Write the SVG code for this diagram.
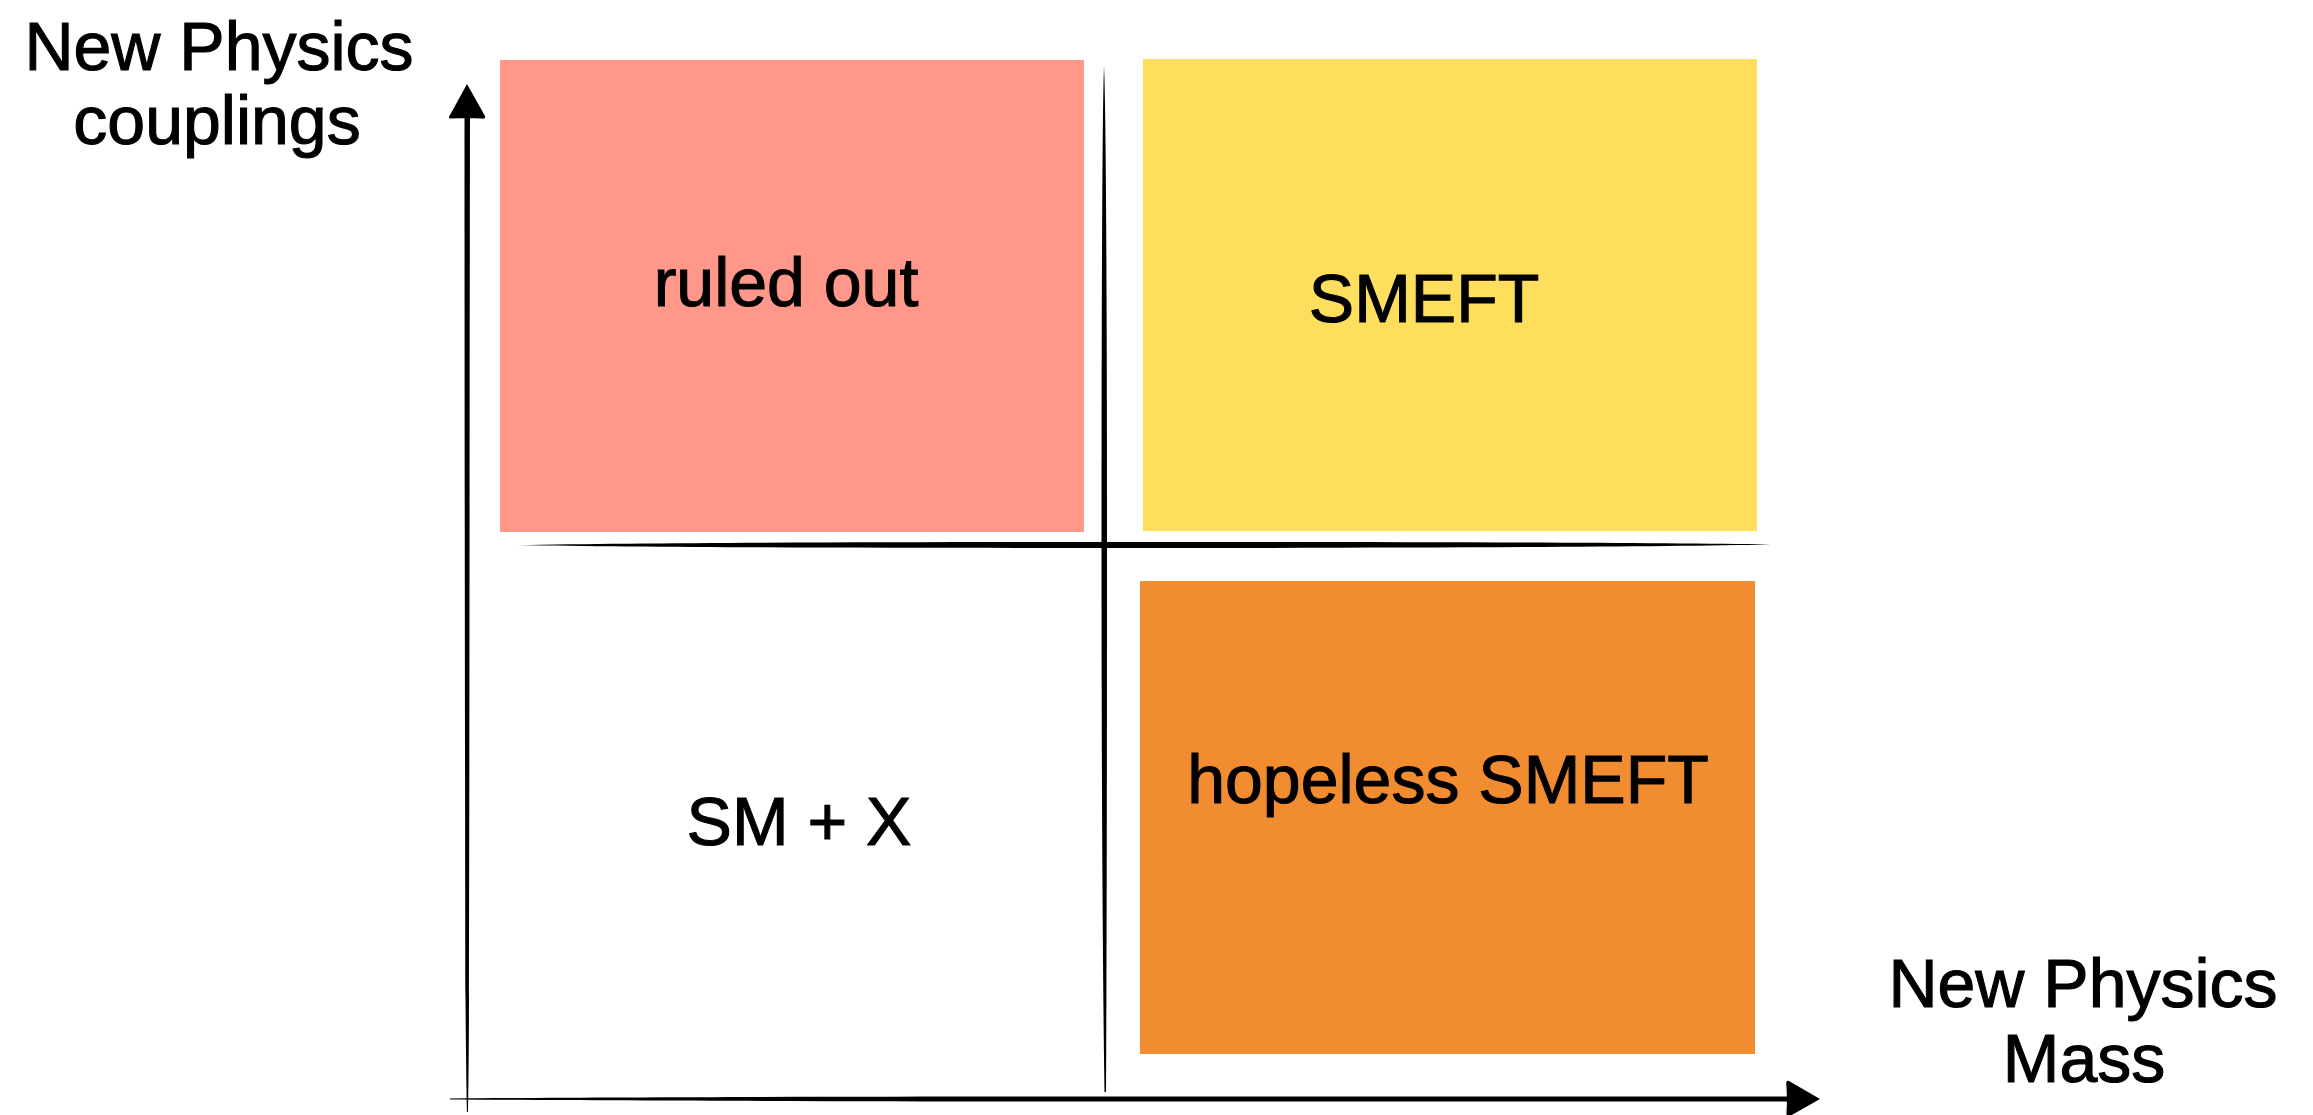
<svg xmlns="http://www.w3.org/2000/svg" width="2313" height="1115" viewBox="0 0 2313 1115">
<style>
.lbl{font-family:"Liberation Sans",Arial,Helvetica,sans-serif;font-size:68px;fill:#000;stroke:#000;stroke-width:1.1px;text-anchor:middle}
.ax{font-size:68px}
.ink{fill:#000;stroke:none}
</style>
<rect x="0" y="0" width="2313" height="1115" fill="#fff"/>
<g id="ruled-out">
<rect x="500" y="60" width="584" height="472" fill="#FF988A"/>
<text class="lbl" x="786" y="306">ruled out</text>
</g>
<g id="smeft">
<rect x="1143" y="59" width="614" height="472" fill="#FEDF5D"/>
<text class="lbl" x="1424" y="322">SMEFT</text>
</g>
<g id="sm-x">
<text class="lbl" x="799" y="845">SM + X</text>
</g>
<g id="hopeless-smeft">
<rect x="1140" y="581" width="615" height="473" fill="#F28C31"/>
<text class="lbl" x="1448" y="803">hopeless SMEFT</text>
</g>
<g id="y-label">
<text class="lbl ax" x="219" y="70">New Physics</text>
<text class="lbl ax" x="217" y="144">couplings</text>
</g>
<g id="x-label">
<text class="lbl ax" x="2083" y="1007">New Physics</text>
<text class="lbl ax" x="2084" y="1082">Mass</text>
</g>
<g id="connectors">
<!-- y axis -->
<path class="ink" d="M464.5,114 L470,114 C469.5,400 469.5,800 469,1000 C468.8,1060 468.5,1090 468,1112 L467,1112 C466.5,1090 466,1060 465.5,1000 C465,800 464.5,400 464.5,114 Z"/>
<path class="ink" d="M467,84 L485,116 C486,118 484,119 481,118.5 C472,118 462,118 452,118.5 C449,119 448,117 450,115 Z"/>
<!-- x axis -->
<path class="ink" d="M450,1098.5 C600,1097 900,1096.5 1100,1096.5 C1400,1096.5 1650,1096.5 1790,1096.5 L1790,1101.5 C1650,1101.5 1400,1101.5 1100,1101.5 C900,1101.5 600,1100.5 450,1099.5 Z"/>
<path class="ink" d="M1820,1099 L1789,1081 C1786,1080 1786,1083 1786.5,1087 C1787,1095 1787,1105 1786.5,1112 C1786,1116 1788,1117 1791,1115.5 Z"/>
<!-- middle horizontal -->
<path class="ink" d="M518,545 C650,542.5 900,542 1104,542 C1400,542 1650,542.5 1771,544.5 C1650,547 1400,548 1104,548 C900,548 650,547.5 518,545 Z"/>
<!-- middle vertical -->
<path class="ink" d="M1104,66 C1106.5,120 1107,400 1107,545 C1107,800 1106.5,1000 1106,1092 L1104.5,1092 C1103,1000 1101.5,800 1101.5,545 C1101.5,400 1101.8,120 1104,66 Z"/>
</g>
</svg>
